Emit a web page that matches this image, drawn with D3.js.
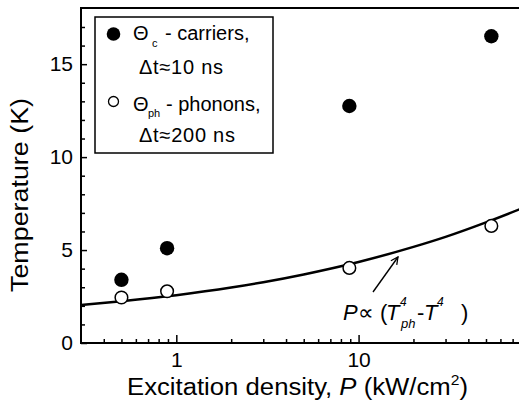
<!DOCTYPE html>
<html>
<head>
<meta charset="utf-8">
<script src="https://cdn.jsdelivr.net/npm/d3@7"></script>
<style>
  body { margin: 0; background: #fff; }
  svg { display: block; font-family: "Liberation Sans", Arial, sans-serif; }
</style>
</head>
<body>
<svg id="chart" width="519" height="414"></svg>
<script>
// excitation density (kW/cm^2) of the measured points
const densities = [0.5, 0.89, 8.9, 53.5];
// carrier temperature, dt ~ 10 ns
const carrierTemps = [3.4, 5.1, 12.75, 16.5];
// phonon temperature, dt ~ 200 ns
const phononTemps = [2.45, 2.78, 4.04, 6.3];
// fitted curve P ~ (Tph^4 - T^4)
const curveP = [0.3, 0.5, 1, 2, 3, 5, 10, 20, 30, 50, 79];
const curveT = [2.05, 2.25, 2.57, 2.98, 3.27, 3.69, 4.36, 5.17, 5.71, 6.49, 7.25];

const xMajorTicks = [1, 10];
const xMinorTicks = [0.4, 0.5, 0.6, 0.7, 0.8, 0.9, 2, 3, 4, 5, 6, 7, 8, 9, 20, 30, 40, 50, 60, 70];
const yMajorTicks = [0, 5, 10, 15];
const yMinorTicks = [1, 2, 3, 4, 6, 7, 8, 9, 11, 12, 13, 14, 16, 17];

const svg = d3.select("#chart");
const plotL = 81, plotR = 522, plotT = 8, plotB = 343;

const x = d3.scaleLog().domain([0.3, 78.8]).range([plotL, plotR]);
const y = d3.scaleLinear().domain([0, 18]).range([plotB, plotT + 0.4]);

// frame (right edge runs off the picture)
svg.append("rect")
  .attr("x", plotL).attr("y", plotT)
  .attr("width", plotR - plotL).attr("height", plotB - plotT)
  .attr("fill", "none").attr("stroke", "#000").attr("stroke-width", 2);

// x axis: minor ticks, then major with labels
svg.append("g")
  .attr("transform", `translate(0,${plotB})`)
  .call(d3.axisBottom(x).tickValues(xMinorTicks).tickSize(-4).tickFormat(""))
  .call(g => g.select(".domain").remove())
  .selectAll("line").attr("stroke-width", 1.5);

const gx = svg.append("g")
  .attr("transform", `translate(0,${plotB})`)
  .call(d3.axisBottom(x).tickValues(xMajorTicks).tickSize(-8).tickFormat(d3.format("d")));
gx.select(".domain").remove();
gx.selectAll("line").attr("stroke-width", 1.5);
gx.selectAll("text").attr("y", 24).attr("dy", 0)
  .attr("font-size", 21).attr("font-family", "Liberation Sans, Arial, sans-serif").attr("fill", "#000");

// y axis
svg.append("g")
  .attr("transform", `translate(${plotL},0)`)
  .call(d3.axisLeft(y).tickValues(yMinorTicks).tickSize(-4).tickFormat(""))
  .call(g => g.select(".domain").remove())
  .selectAll("line").attr("stroke-width", 1.5);

const gy = svg.append("g")
  .attr("transform", `translate(${plotL},0)`)
  .call(d3.axisLeft(y).tickValues(yMajorTicks).tickSize(-6).tickPadding(8));
gy.select(".domain").remove();
gy.selectAll("line").attr("stroke-width", 1.5);
gy.selectAll("text").attr("font-size", 21)
  .attr("font-family", "Liberation Sans, Arial, sans-serif").attr("fill", "#000");

// axis titles
svg.append("text")
  .attr("x", 127).attr("y", 395)
  .attr("font-size", 23)
  .attr("textLength", 341).attr("lengthAdjust", "spacingAndGlyphs")
  .call(t => {
    t.append("tspan").text("Excitation density, ");
    t.append("tspan").attr("font-style", "italic").text("P");
    t.append("tspan").text(" (kW/cm");
    t.append("tspan").attr("font-size", 14).attr("dy", -10).text("2");
    t.append("tspan").attr("dy", 10).text(")");
  });

svg.append("text")
  .attr("transform", "translate(28,195) rotate(-90)")
  .attr("text-anchor", "middle")
  .attr("font-size", 23)
  .attr("textLength", 194).attr("lengthAdjust", "spacingAndGlyphs")
  .text("Temperature (K)");

// fit curve
const line = d3.line()
  .x(d => x(d[0])).y(d => y(d[1]))
  .curve(d3.curveMonotoneX);
svg.append("path")
  .datum(d3.zip(curveP, curveT))
  .attr("d", line)
  .attr("fill", "none").attr("stroke", "#000").attr("stroke-width", 2.5);

// points
svg.append("g").selectAll("circle")
  .data(d3.zip(densities, carrierTemps))
  .join("circle")
  .attr("cx", d => x(d[0])).attr("cy", d => y(d[1]))
  .attr("r", 7.2).attr("fill", "#000");

svg.append("g").selectAll("circle")
  .data(d3.zip(densities, phononTemps))
  .join("circle")
  .attr("cx", d => x(d[0])).attr("cy", d => y(d[1]))
  .attr("r", 6.3).attr("fill", "#fff").attr("stroke", "#000").attr("stroke-width", 1.5);

// legend
const lg = svg.append("g");
lg.append("rect")
  .attr("x", 95).attr("y", 17).attr("width", 178).attr("height", 136)
  .attr("fill", "#fff").attr("stroke", "#000").attr("stroke-width", 1.5);
lg.append("circle").attr("cx", 113.5).attr("cy", 34).attr("r", 6.8).attr("fill", "#000");
lg.append("circle").attr("cx", 113.5).attr("cy", 101.5).attr("r", 5)
  .attr("fill", "#fff").attr("stroke", "#000").attr("stroke-width", 1.3);

lg.append("text").attr("x", 133).attr("y", 40).attr("font-size", 20).text("Θ");
lg.append("text").attr("x", 152).attr("y", 47).attr("font-size", 11).text("c");
lg.append("text").attr("x", 165).attr("y", 40).attr("font-size", 20).text("- carriers,");
lg.append("text").attr("x", 139).attr("y", 74).attr("font-size", 20)
  .attr("textLength", 84).attr("lengthAdjust", "spacing").text("Δt≈10 ns");

lg.append("text").attr("x", 133).attr("y", 111).attr("font-size", 20).text("Θ");
lg.append("text").attr("x", 148).attr("y", 117).attr("font-size", 11).text("ph");
lg.append("text").attr("x", 166).attr("y", 111).attr("font-size", 20).text("- phonons,");
lg.append("text").attr("x", 139).attr("y", 142).attr("font-size", 20)
  .attr("textLength", 96).attr("lengthAdjust", "spacing").text("Δt≈200 ns");

// annotation with arrow
svg.append("defs").append("marker")
  .attr("id", "arr").attr("viewBox", "0 0 10 10")
  .attr("refX", 9).attr("refY", 5)
  .attr("markerWidth", 9).attr("markerHeight", 9)
  .attr("markerUnits", "userSpaceOnUse")
  .attr("orient", "auto")
  .append("path").attr("d", "M1,1 L9,5 L1,9")
  .attr("fill", "none").attr("stroke", "#000").attr("stroke-width", 1.4);

svg.append("line")
  .attr("x1", 373).attr("y1", 292).attr("x2", 398).attr("y2", 257)
  .attr("stroke", "#000").attr("stroke-width", 1.4)
  .attr("marker-end", "url(#arr)");

const ann = svg.append("g").attr("font-size", 22);
ann.append("text").attr("x", 343).attr("y", 320).attr("font-style", "italic").text("P");
ann.append("text").attr("x", 358).attr("y", 320).text("∝ (");
ann.append("text").attr("x", 386).attr("y", 320).attr("font-style", "italic").text("T");
ann.append("text").attr("x", 400).attr("y", 306).attr("font-size", 12).attr("font-style", "italic").text("4");
ann.append("text").attr("x", 401).attr("y", 328).attr("font-size", 13).attr("font-style", "italic").text("ph");
ann.append("text").attr("x", 417).attr("y", 320).text("-");
ann.append("text").attr("x", 424).attr("y", 320).attr("font-style", "italic").text("T");
ann.append("text").attr("x", 437).attr("y", 306).attr("font-size", 12).attr("font-style", "italic").text("4");
ann.append("text").attr("x", 461).attr("y", 320).text(")");
</script>
</body>
</html>
